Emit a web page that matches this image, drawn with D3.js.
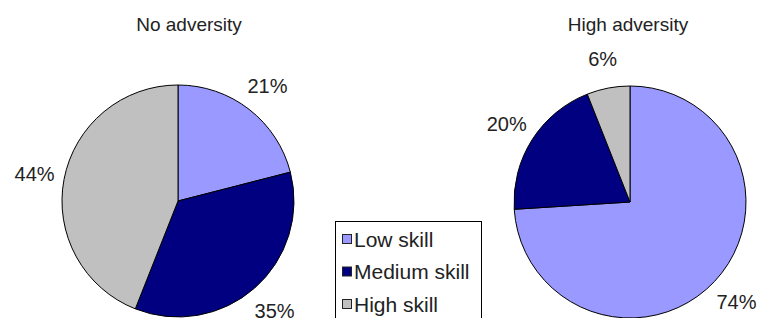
<!DOCTYPE html>
<html>
<head>
<meta charset="utf-8">
<script src="https://cdn.jsdelivr.net/npm/d3@7"></script>
<style>
  html, body { margin: 0; padding: 0; background: #fff; }
  svg { display: block; font-family: "Liberation Sans", Arial, sans-serif; }
</style>
</head>
<body>
<svg id="chart" width="762" height="318"></svg>
<script>
const categories = ["Low skill", "Medium skill", "High skill"];
const colors = ["#9999FF", "#000080", "#C0C0C0"];
const panelTitles = ["No adversity", "High adversity"];
const noAdversity = [21, 35, 44];
const highAdversity = [74, 20, 6];

const svg = d3.select("#chart");
const W = 762, H = 318;
svg.append("rect").attr("width", W).attr("height", H).attr("fill", "#fff");

const radius = 116;
const labelRadius = 146;
const panels = [
  { title: panelTitles[0], values: noAdversity, cx: 178, cy: 201, tx: 189 },
  { title: panelTitles[1], values: highAdversity, cx: 630, cy: 202, tx: 628 }
];

const pie = d3.pie().sort(null).value(d => d);
const arc = d3.arc().innerRadius(0).outerRadius(radius);
const labelArc = d3.arc().innerRadius(labelRadius).outerRadius(labelRadius);
const color = d3.scaleOrdinal().domain(categories).range(colors);

panels.forEach(p => {
  svg.append("text")
    .attr("x", p.tx).attr("y", 31)
    .attr("text-anchor", "middle")
    .attr("font-size", 19)
    .attr("fill", "#222")
    .text(p.title);

  const g = svg.append("g").attr("transform", `translate(${p.cx},${p.cy})`);
  const arcs = pie(p.values);
  g.selectAll("path").data(arcs).join("path")
    .attr("d", arc)
    .attr("fill", (d, i) => color(categories[i]))
    .attr("stroke", "#000")
    .attr("stroke-width", 1);

  g.selectAll("text.lbl").data(arcs).join("text")
    .attr("class", "lbl")
    .attr("transform", d => `translate(${labelArc.centroid(d)})`)
    .attr("text-anchor", "middle")
    .attr("dy", "0.36em")
    .attr("font-size", 20)
    .attr("fill", "#222")
    .text(d => d.data + "%");
});

// Legend
const lg = svg.append("g");
lg.append("rect")
  .attr("x", 335.5).attr("y", 221.5)
  .attr("width", 146).attr("height", 110)
  .attr("fill", "#fff").attr("stroke", "#000").attr("stroke-width", 1);

const ly = d3.scalePoint().domain(categories).range([239, 304]);
categories.forEach(c => {
  lg.append("rect")
    .attr("x", 342.5).attr("y", ly(c) - 4.5)
    .attr("width", 9).attr("height", 9)
    .attr("fill", color(c)).attr("stroke", "#222").attr("stroke-width", 1);
  lg.append("text")
    .attr("x", 354).attr("y", ly(c))
    .attr("dy", "0.36em")
    .attr("font-size", 21)
    .attr("fill", "#222")
    .text(c);
});
</script>
</body>
</html>
